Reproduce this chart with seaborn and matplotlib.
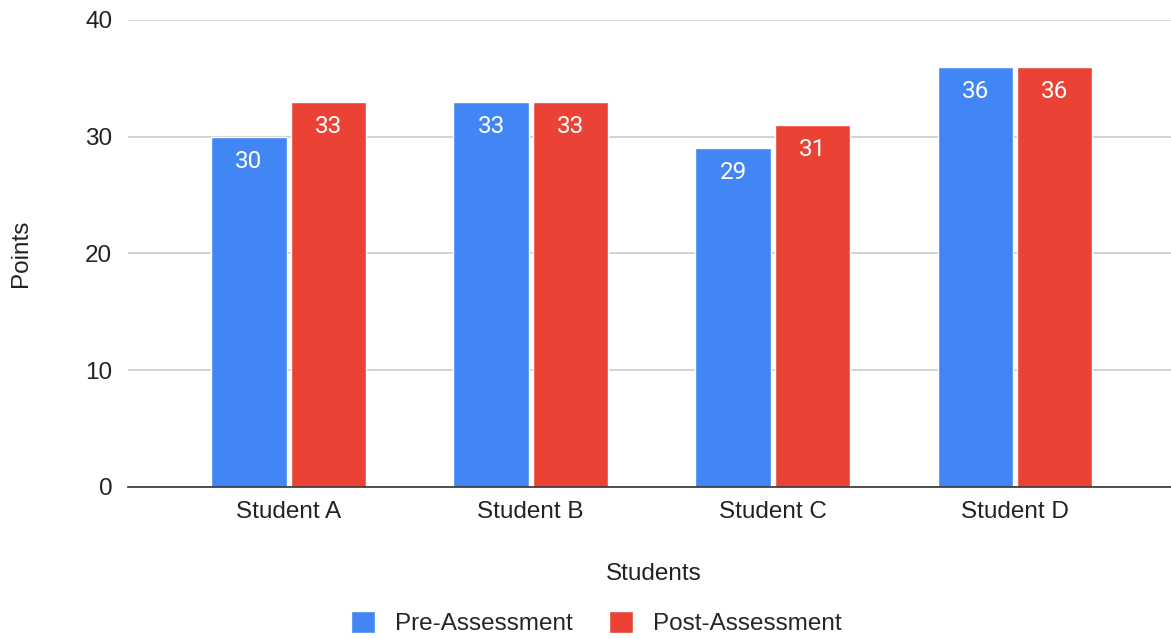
import pandas as pd
import seaborn as sns
import matplotlib.pyplot as plt

students = ["Student A", "Student B", "Student C", "Student D"]
pre_scores = [30, 33, 29, 36]
post_scores = [33, 33, 31, 36]
series = ["Pre-Assessment", "Post-Assessment"]

df = pd.DataFrame({
    "Students": students * 2,
    "Points": pre_scores + post_scores,
    "Series": [series[0]] * 4 + [series[1]] * 4,
})

sns.set_style("white")
plt.rcParams["font.family"] = ["Liberation Sans", "DejaVu Sans"]
fs = 17.5

fig = plt.figure(figsize=(11.71, 6.39), dpi=100)
ax = fig.add_axes([0.109, 0.238, 0.891, 0.731])

palette = {"Pre-Assessment": "#4285F4", "Post-Assessment": "#EA4335"}
sns.barplot(data=df, x="Students", y="Points", hue="Series", palette=palette,
            width=0.655, gap=0.05, saturation=1, ax=ax, zorder=3, legend=True)

for cont in ax.containers:
    ax.bar_label(cont, padding=-26, color="white", fontsize=17.5,
                 family=["Roboto", "DejaVu Sans"])

ax.set_ylim(0, 40)
ax.set_yticks([0, 10, 20, 30, 40])
ax.set_xlim(-0.665, 3.645)
ax.yaxis.grid(True, color="#cccccc", linewidth=1.2, zorder=0)
for s in ["top", "right", "left"]:
    ax.spines[s].set_visible(False)
ax.spines["bottom"].set_color("#333333")
ax.spines["bottom"].set_linewidth(1.2)
ax.spines["bottom"].set_zorder(4)
ax.tick_params(axis="both", length=0, labelsize=fs, colors="#222222", pad=10)
ax.tick_params(axis="y", pad=11)
ax.set_xlabel("")
ax.set_ylabel("")

# axis titles placed in figure coords
fig.text(0.558, 0.101, "Students", fontsize=fs, color="#222222", ha="center", va="center")
fig.text(0.018, 0.603, "Points", fontsize=fs, color="#222222", ha="center", va="center",
         rotation=90)

handles, labels = ax.get_legend_handles_labels()
ax.legend_.remove()
fig.legend(handles, labels, loc="center", bbox_to_anchor=(0.509, 0.025), ncol=2,
           frameon=False, fontsize=fs, handlelength=1.0, handleheight=1.0,
           columnspacing=1.5, handletextpad=0.8)

fig.savefig("out.png", dpi=100)
